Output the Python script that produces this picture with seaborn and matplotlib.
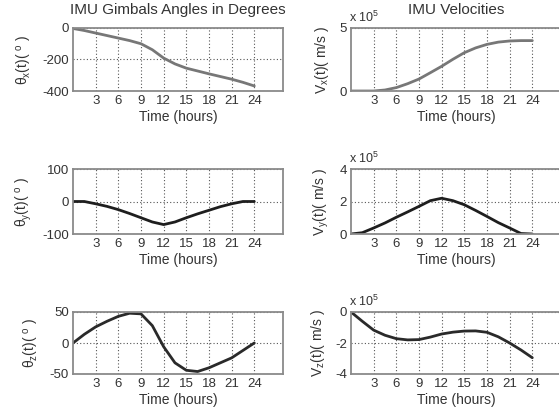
import matplotlib
matplotlib.use("Agg")
import matplotlib.pyplot as plt
import seaborn as sns

# time axis (hours)
hours = [0, 1.5, 3, 4.5, 6, 7.5, 9, 10.5, 12, 13.5, 15, 16.5, 18, 19.5, 21, 22.5, 24]

# gimbal angles (degrees)
theta_x = [-3, -16, -32, -48, -64, -80, -100, -138, -191, -228, -255, -273, -291, -308, -325, -345, -368]
theta_y = [0, 0, -7, -15, -25, -37, -50, -63, -71, -63, -50, -38, -27, -16, -7, 0, 0]
theta_z = [0, 14, 26, 35, 43, 48, 47, 28, -6, -32, -44, -46, -40, -32, -24, -12, 0]

# velocities (x 10^5 m/s)
vx_e5 = [0, 0, 0, 0.08, 0.27, 0.58, 0.95, 1.45, 1.96, 2.52, 3.04, 3.42, 3.7, 3.88, 3.97, 4.0, 4.0]
vy_e5 = [0, 0.08, 0.37, 0.68, 1.03, 1.36, 1.7, 2.05, 2.2, 2.05, 1.8, 1.45, 1.08, 0.7, 0.37, 0.03, 0]
vz_e5 = [0, -0.6, -1.17, -1.5, -1.72, -1.8, -1.78, -1.62, -1.42, -1.3, -1.23, -1.22, -1.31, -1.6, -2.0, -2.45, -2.95]

xticks = [3, 6, 9, 12, 15, 18, 21, 24]

sns.set_style("white")
plt.rcParams["font.family"] = ["Liberation Sans", "DejaVu Sans"]
plt.rcParams["mathtext.fontset"] = "custom"
plt.rcParams["mathtext.rm"] = "Liberation Sans"
plt.rcParams["mathtext.it"] = "Liberation Sans"
plt.rcParams["axes.unicode_minus"] = False

fig = plt.figure(figsize=(5.59, 4.18), dpi=100)

left_x, right_x, w = 73 / 559, 351 / 559, 210 / 559
rows = [(28, 91), (169, 234), (312, 374)]

panels = [
    # (x0, row, series, color, ylim, yticks, ylabel, title, x10)
    (left_x, 0, theta_x, "#777777", (-400, 0), [-400, -200, 0], r"$\theta_x$(t)( $^o$ )", "IMU Gimbals Angles in Degrees", False),
    (left_x, 1, theta_y, "#1e1e1e", (-100, 100), [-100, 0, 100], r"$\theta_y$(t)( $^o$ )", None, False),
    (left_x, 2, theta_z, "#2a2a2a", (-50, 50), [-50, 0, 50], r"$\theta_z$(t)( $^o$ )", None, False),
    (right_x, 0, vx_e5, "#777777", (0, 5), [0, 5], r"V$_x$(t)( m/s )", "IMU Velocities", True),
    (right_x, 1, vy_e5, "#1e1e1e", (0, 4), [0, 2, 4], r"V$_y$(t)( m/s )", None, True),
    (right_x, 2, vz_e5, "#2a2a2a", (-4, 0), [-4, -2, 0], r"V$_z$(t)( m/s )", None, True),
]

for x0, r, series, color, ylim, yticks, ylabel, title, x10 in panels:
    top, bot = rows[r]
    ax = fig.add_axes([x0, 1 - bot / 418, w, (bot - top) / 418])
    sns.lineplot(x=hours, y=series, ax=ax, color=color, linewidth=2)
    ax.set_xlim(0, 27.8)
    ax.set_ylim(*ylim)
    ax.set_xticks(xticks)
    ax.set_yticks(yticks)
    ax.tick_params(labelsize=9.5, length=0, pad=3, colors="#333333")
    ax.grid(True, linestyle=(0, (1, 2)), color="#555555", linewidth=0.8)
    for s in ax.spines.values():
        s.set_color("#8a8a8a")
        s.set_linewidth(1.3)
    ax.set_xlabel("Time (hours)", fontsize=10, color="#333333", labelpad=2)
    ax.set_ylabel(ylabel, fontsize=10, color="#333333", labelpad=6)
    if title:
        ax.set_title(title, fontsize=11, color="#333333", pad=10)
    if x10:
        ax.text(-0.01, 1.05, r"x 10$^5$", transform=ax.transAxes, fontsize=9,
                color="#333333", va="bottom", ha="left")

fig.savefig("out.png", dpi=100)
